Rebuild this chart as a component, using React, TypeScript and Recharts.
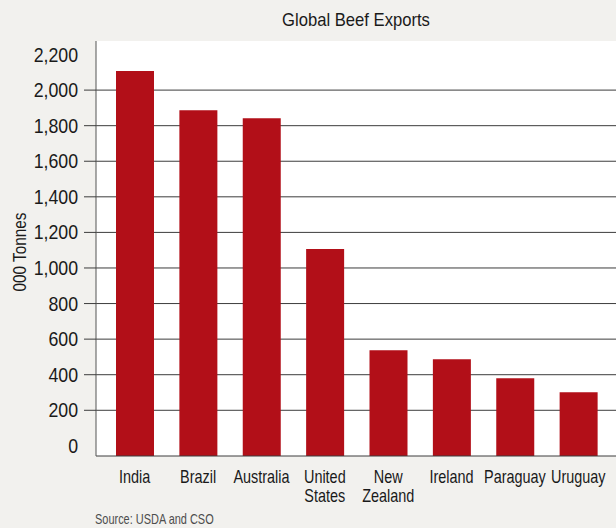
// Global beef exports by country, thousand tonnes (USDA / CSO).
// Static bar chart, sized to the 616x528 reference.

import { Bar, BarChart, CartesianGrid, XAxis, YAxis } from "recharts";

const countries = [
  "India",
  "Brazil",
  "Australia",
  "United States",
  "New Zealand",
  "Ireland",
  "Paraguay",
  "Uruguay",
];
const exportsKt = [2107, 1887, 1842, 1106, 537, 487, 380, 301];
const yTicks = [0, 200, 400, 600, 800, 1000, 1200, 1400, 1600, 1800, 2000, 2200];
const gridTicks = [200, 400, 600, 800, 1000, 1200, 1400, 1600, 1800, 2000];

// the source chart's axis runs a little past 0 and 2,200
const Y_MIN = -57;
const Y_MAX = 2276;

// no condensed face installed, so Liberation Sans gets squeezed horizontally
const FONT = "'Liberation Sans', Arial, sans-serif";
const RED = "#b20f18";
const LINE = "#3c3c3c";
const INK = "#1a1a1a";
const PAGE = "#f2f1ee";

const data = countries.map((country, i) => ({ country, value: exportsKt[i] }));

/** Country names, two-word ones stacked on two lines. */
function CountryTick({ x, y, payload }: any) {
  const lines = String(payload.value).split(" ");
  return (
    <text
      transform={`translate(${x} ${y}) scale(0.78 1)`}
      textAnchor="middle"
      fill={INK}
      fontSize={18.5}
      fontFamily={FONT}
    >
      {lines.map((l, i) => (
        <tspan key={i} x={0} dy={i === 0 ? 27 : 19}>
          {l}
        </tspan>
      ))}
    </text>
  );
}

/** Value labels; the short tick mark only sits on the gridline values. */
function ValueTick({ x, y, payload }: any) {
  const v = payload.value as number;
  return (
    <g>
      {gridTicks.includes(v) && (
        <line x1={x + 6} x2={x + 18} y1={y} y2={y} stroke={LINE} strokeWidth={1} />
      )}
      <text
        transform={`translate(${x} ${y}) scale(0.91 1)`}
        dy={7}
        textAnchor="end"
        fill={INK}
        fontSize={19.5}
        fontFamily={FONT}
      >
        {v.toLocaleString("en-US")}
      </text>
    </g>
  );
}

export default function App() {
  return (
    <div
      style={{
        position: "absolute",
        left: 0,
        top: 0,
        width: 616,
        height: 528,
        background: PAGE,
        fontFamily: FONT,
        overflow: "hidden",
      }}
    >
      <div
        style={{
          position: "absolute",
          left: 96,
          top: 10,
          width: 520,
          textAlign: "center",
          fontSize: 19,
          lineHeight: "19px",
          color: INK,
          transform: "scaleX(0.875)",
        }}
      >
        Global Beef Exports
      </div>
      <div
        style={{
          position: "absolute",
          left: 20,
          top: 252,
          fontSize: 18,
          lineHeight: "18px",
          whiteSpace: "nowrap",
          color: INK,
          transform: "translate(-50%, -50%) rotate(-90deg) scaleX(0.85)",
        }}
      >
        000 Tonnes
      </div>
      <BarChart
        width={616}
        height={528}
        data={data}
        margin={{ top: 41, right: 0, bottom: 0, left: 0 }}
      >
        <CartesianGrid
          vertical={false}
          horizontalValues={gridTicks}
          stroke={LINE}
          fill="#ffffff"
          fillOpacity={1}
        />
        <XAxis
          dataKey="country"
          height={72}
          interval={0}
          padding={{ left: 7, right: 6 }}
          tickLine={false}
          tickSize={0}
          tickMargin={0}
          axisLine={{ stroke: LINE }}
          tick={<CountryTick />}
        />
        <XAxis
          xAxisId="top"
          orientation="top"
          dataKey="country"
          height={0}
          padding={{ left: 7, right: 6 }}
          tick={false}
          tickLine={false}
          axisLine={{ stroke: "#777" }}
        />
        <YAxis
          type="number"
          width={96}
          domain={[Y_MIN, Y_MAX]}
          allowDataOverflow
          ticks={yTicks}
          interval={0}
          tickLine={false}
          tickSize={12}
          tickMargin={6}
          axisLine={{ stroke: "#555" }}
          tick={<ValueTick />}
        />
        <Bar
          dataKey={(d: { value: number }) => [Y_MIN, d.value]}
          fill={RED}
          barSize={38}
          isAnimationActive={false}
        />
      </BarChart>
      <div
        style={{
          position: "absolute",
          left: 95,
          top: 511,
          fontSize: 15,
          lineHeight: "15px",
          whiteSpace: "nowrap",
          color: "#4d4d4d",
          transform: "scaleX(0.73)",
          transformOrigin: "left center",
        }}
      >
        Source: USDA and CSO
      </div>
    </div>
  );
}
